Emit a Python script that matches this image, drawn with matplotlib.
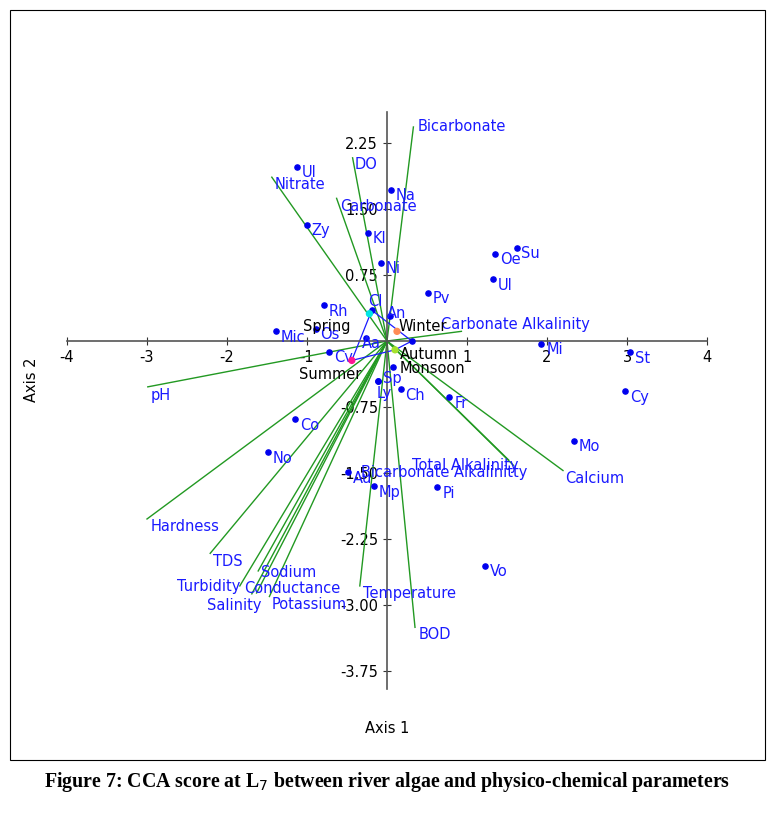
import matplotlib
matplotlib.use("Agg")
import matplotlib.pyplot as plt
from matplotlib.patches import Rectangle

# species scores
species = ["Ul","Na","Kl","Ni","Zy","Oe","Su","Ul","Pv","Rh","Cl","An","Mic","Os","Aa","","Cv","","Sp","Ly","Ch","Fr","Mi","St","Cy","Co","Mo","No","Au","Mp","Pi","Vo"]
sp_x = [-1.125,0.05,-0.24,-0.075,-1.0,1.35,1.62,1.32,0.51,-0.79,-0.19,0.04,-1.39,-0.89,-0.26,0.31,-0.72,0.075,-0.11,-0.11,0.17,0.78,1.93,3.04,2.98,-1.15,2.34,-1.49,-0.49,-0.16,0.63,1.22]
sp_y = [1.98,1.72,1.23,0.89,1.32,0.99,1.06,0.70,0.55,0.41,0.35,0.28,0.11,0.14,0.03,0.0,-0.125,-0.30,-0.45,-0.45,-0.55,-0.64,-0.03,-0.125,-0.57,-0.89,-1.13,-1.26,-1.49,-1.65,-1.66,-2.55]

# environmental vectors
env = ["Bicarbonate","DO","Nitrate","Carbonate","Carbonate Alkalinity","pH","Calcium","Total Alkalinity","Bicarbonate Alkalinitty","Hardness","TDS","Turbidity","Salinity","Conductance","Sodium","Potassium","Temperature","BOD"]
env_x = [0.33,-0.43,-1.44,-0.63,0.93,-2.99,2.20,1.58,1.52,-3.0,-2.21,-1.84,-1.69,-1.63,-1.61,-1.47,-0.34,0.35]
env_y = [2.43,2.08,1.86,1.62,0.11,-0.52,-1.47,-1.41,-1.35,-2.02,-2.41,-2.78,-2.87,-2.86,-2.61,-2.90,-2.78,-3.25]

# season centroids
seasons = ["Spring","Winter","Autumn","Summer"]
se_x = [-0.22,0.125,0.10,-0.44]
se_y = [0.31,0.11,-0.10,-0.22]
se_col = ["#00e5e5","#ff8c55","#a6e22e","#ff1493"]

hull_x = [-0.19,0.31,0.10,-0.44,-0.19]
hull_y = [0.35,0.0,-0.10,-0.22,0.35]

W, H = 775, 813
fig = plt.figure(figsize=(W/100, H/100), dpi=100)
fig.patches.append(Rectangle((10/W, 1-760/H), 755/W, 750/H, transform=fig.transFigure,
                             fill=False, edgecolor="black", linewidth=0.8))
ax = fig.add_axes([67/W, 1-689/H, 640/W, 577/H])
ax.set_xlim(-4, 4)
ax.set_ylim(-3.95, 2.6)
ax.patch.set_visible(False)
for s in ["top", "right"]:
    ax.spines[s].set_visible(False)
ax.spines["left"].set_position(("data", 0))
ax.spines["bottom"].set_position(("data", 0))
for s in ["left", "bottom"]:
    ax.spines[s].set_color("#555555")
    ax.spines[s].set_linewidth(1.2)
ax.set_xticks([-4,-3,-2,-1,1,2,3,4])
ax.set_xticklabels(["-4","-3","-2","-1","1","2","3","4"])
ax.set_yticks([2.25,1.5,0.75,-0.75,-1.5,-2.25,-3.0,-3.75])
ax.set_yticklabels(["2.25","1.50","0.75","-0.75","-1.50","-2.25","-3.00","-3.75"])
ax.tick_params(direction="inout", length=6, labelsize=10.5, colors="#333333", labelcolor="black")

blue = "#1a1aff"
for x, y, n in zip(env_x, env_y, env):
    ax.plot([0, x], [0, y], color="#229922", linewidth=1.0)

lbl_off = {"Bicarbonate": (0.05, 0.0), "DO": (0.02, -0.08), "Nitrate": (0.04, -0.08),
           "Carbonate": (0.04, -0.09), "Carbonate Alkalinity": (-0.25, 0.08),
           "pH": (0.04, -0.1), "Calcium": (0.03, -0.09),
           "Total Alkalinity": (-1.27, 0.0), "Bicarbonate Alkalinitty": (-1.84, -0.14),
           "Hardness": (0.05, -0.08), "TDS": (0.03, -0.09), "Turbidity": (-0.78, -0.01),
           "Salinity": (-0.56, -0.13), "Conductance": (-0.15, 0.05), "Sodium": (0.04, -0.02),
           "Potassium": (0.03, -0.09), "Temperature": (0.04, -0.09), "BOD": (0.04, -0.08)}
for x, y, n in zip(env_x, env_y, env):
    dx, dy = lbl_off[n]
    ax.text(x+dx, y+dy, n, color=blue, fontsize=10.5, ha="left", va="center")

ax.plot(hull_x, hull_y, color=blue, linewidth=0.9)
ax.scatter(sp_x, sp_y, s=14, color="#0000ee", zorder=3)
sp_off = {"Cl": (-0.05, 0.1), "An": (-0.04, 0.03), "Aa": (-0.05, -0.06), "Sp": (0.06, 0.02),
          "Ly": (-0.02, -0.14), "Cv": (0.06, -0.06)}
for x, y, n in zip(sp_x, sp_y, species):
    if n:
        dx, dy = sp_off.get(n, (0.06, -0.07))
        ax.text(x+dx, y+dy, n, color=blue, fontsize=10.5, ha="left", va="center")

ax.scatter(se_x, se_y, s=18, color=se_col, zorder=4)
se_lab = [(-1.05, 0.16), (0.14, 0.16), (0.16, -0.15), (-1.1, -0.38)]
for (lx, ly), n in zip(se_lab, seasons):
    ax.text(lx, ly, n, color="black", fontsize=10.5, ha="left", va="center")
ax.text(0.16, -0.31, "Monsoon", color="black", fontsize=10.5, ha="left", va="center")

fig.text(387/W, 1-728/H, "Axis 1", ha="center", va="center", fontsize=10.5)
fig.text(31/W, 1-380/H, "Axis 2", ha="center", va="center", rotation=90, fontsize=10.5)
fig.text(387/W, 1-782/H, "Figure 7: CCA score at L$_7$ between river algae and physico-chemical parameters",
         ha="center", va="center", fontsize=14.3, fontweight="bold", family="Liberation Serif")
fig.savefig("out.png", dpi=100)
